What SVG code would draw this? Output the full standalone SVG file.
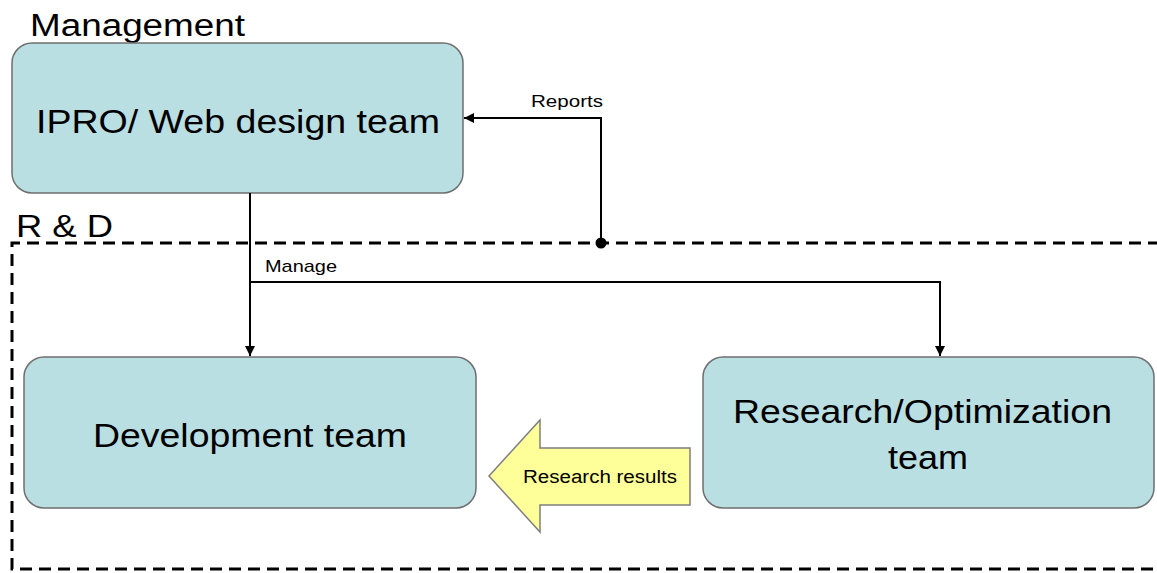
<svg xmlns="http://www.w3.org/2000/svg" width="1157" height="573" viewBox="0 0 1157 573">
  <style>
    .box { fill: #b9dfe3; stroke: #6f6f6f; stroke-width: 1.5; }
    .t { font-family: "Liberation Sans", Arial, sans-serif; fill: #000; }
    .conn { fill: none; stroke: #000; stroke-width: 2; }
    .zone { fill: none; stroke: #000; stroke-width: 3; stroke-dasharray: 12 7; }
  </style>
  <defs>
    <marker id="arr" viewBox="0 0 10 10" refX="10" refY="5" markerWidth="11" markerHeight="10" orient="auto" markerUnits="userSpaceOnUse">
      <path d="M0,0 L10,5 L0,10 z" fill="#000"/>
    </marker>
  </defs>
  <rect width="1157" height="573" fill="#fff"/>

  <!-- R&D zone -->
  <g id="rd-zone">
    <path class="zone" d="M1160,243 H12 V569 H1160"/>
    <text class="t" x="16" y="237" font-size="31" textLength="97" lengthAdjust="spacingAndGlyphs">R &amp; D</text>
  </g>

  <text class="t" x="30" y="36" font-size="31" textLength="215" lengthAdjust="spacingAndGlyphs">Management</text>

  <g id="ipro">
    <rect class="box" x="12" y="43" width="451" height="150" rx="20"/>
    <text class="t" x="36" y="133" font-size="33" textLength="404" lengthAdjust="spacingAndGlyphs">IPRO/ Web design team</text>
  </g>

  <g id="development">
    <rect class="box" x="24" y="357" width="452" height="151" rx="20"/>
    <text class="t" x="93" y="447" font-size="34" textLength="314" lengthAdjust="spacingAndGlyphs">Development team</text>
  </g>

  <g id="research">
    <rect class="box" x="703" y="357" width="451" height="151" rx="20"/>
    <text class="t" x="733" y="423" font-size="33" textLength="379" lengthAdjust="spacingAndGlyphs">Research/Optimization</text>
    <text class="t" x="888" y="469" font-size="33" textLength="80" lengthAdjust="spacingAndGlyphs">team</text>
  </g>

  <g id="connectors">
    <path class="conn" d="M601,243 V118 H464" marker-end="url(#arr)"/>
    <circle cx="601" cy="243" r="5.5" fill="#000"/>
    <text class="t" x="531" y="107" font-size="17" textLength="72" lengthAdjust="spacingAndGlyphs">Reports</text>
    <path class="conn" d="M250,193 V356" marker-end="url(#arr)"/>
    <path class="conn" d="M250,282 H940 V356" marker-end="url(#arr)"/>
    <text class="t" x="265" y="272" font-size="17" textLength="72" lengthAdjust="spacingAndGlyphs">Manage</text>
  </g>

  <g id="research-results">
    <path d="M489,476 L540,420 V448 H690 V505 H540 V532 Z" fill="#ffff99" stroke="#7f7f7f" stroke-width="1.5"/>
    <text class="t" x="523" y="483" font-size="18" textLength="154" lengthAdjust="spacingAndGlyphs">Research results</text>
  </g>
</svg>
